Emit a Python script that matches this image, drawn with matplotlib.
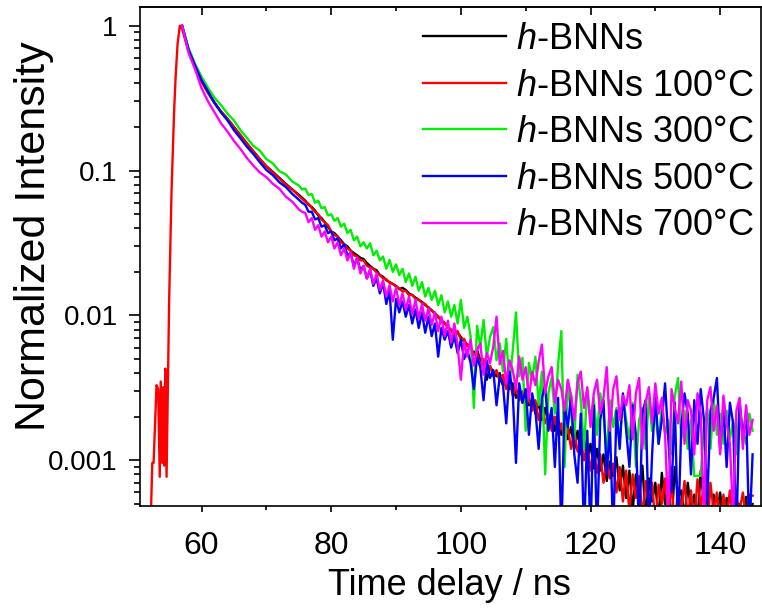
import matplotlib
matplotlib.use("Agg")
import matplotlib.pyplot as plt
from matplotlib.ticker import MultipleLocator, LogLocator, NullFormatter

plt.rcParams['font.family'] = ['Liberation Sans', 'DejaVu Sans']
plt.rcParams['mathtext.fontset'] = 'custom'
plt.rcParams['mathtext.it'] = 'Liberation Sans:italic'
plt.rcParams['mathtext.rm'] = 'Liberation Sans'

# time grid of the decay part (ns)
t = [57, 58, 59, 60, 61, 62, 63, 64, 65, 66,
     67, 68, 69, 70, 71, 72, 73, 74, 75, 75.5,
     76, 76.5, 77, 77.5, 78, 78.5, 79, 79.5, 80, 80.5,
     81, 81.5, 82, 82.5, 83, 83.5, 84, 84.5, 85, 85.5,
     86, 86.5, 87, 87.5, 88, 88.5, 89, 89.5, 90, 90.5,
     91, 91.5, 92, 92.5, 93, 93.5, 94, 94.5, 95, 95.5,
     96, 96.5, 97, 97.5, 98, 98.5, 99, 99.5, 100, 100.5,
     101, 101.5, 102, 102.5, 103, 103.5, 104, 104.5, 105, 105.5,
     106, 106.5, 107, 107.5, 108, 108.5, 109, 109.5, 110, 110.5,
     111, 111.5, 112, 112.5, 113, 113.5, 114, 114.5, 115, 115.5,
     116, 116.5, 117, 117.5, 118, 118.5, 119, 119.5, 120, 120.5,
     121, 121.5, 122, 122.5, 123, 123.5, 124, 124.5, 125, 125.5,
     126, 126.5, 127, 127.5, 128, 128.5, 129, 129.5, 130, 130.5,
     131, 131.5, 132, 132.5, 133, 133.5, 134, 134.5, 135, 135.5,
     136, 136.5, 137, 137.5, 138, 138.5, 139, 139.5, 140, 140.5,
     141, 141.5, 142, 142.5, 143, 143.5, 144, 144.5, 145]

# rising edge, only visible for the 100 C sample
red_rise_t = [52.2, 52.4, 52.6, 53.05, 53.3, 53.55, 53.7, 53.95, 54.1, 54.25,
              54.4, 54.6, 55.0, 55.37, 55.77, 56.0, 56.3, 56.65]
red_rise = [0.00045, 0.00096, 0.00096, 0.0033, 0.0031, 0.00077, 0.0035, 0.00096, 0.0032, 0.00092,
            0.0043, 0.00077, 0.0128, 0.073, 0.26, 0.445, 0.75, 1.0]

black = [1.0, 0.68, 0.52, 0.415, 0.345, 0.295, 0.256, 0.228, 0.2, 0.175,
         0.154, 0.136, 0.12, 0.107, 0.098, 0.089, 0.081, 0.074, 0.068, 0.065,
         0.062, 0.058, 0.056, 0.053, 0.049, 0.047, 0.044, 0.041, 0.038, 0.037,
         0.035, 0.033, 0.031, 0.030, 0.028, 0.027, 0.026, 0.025, 0.0245, 0.023,
         0.022, 0.021, 0.0205, 0.019, 0.0185, 0.0175, 0.017, 0.0165, 0.016, 0.0152,
         0.0155, 0.015, 0.0142, 0.0138, 0.0133, 0.0128, 0.0124, 0.0118, 0.0114, 0.0108,
         0.0104, 0.0097, 0.0093, 0.0088, 0.0084, 0.0079, 0.0073, 0.0076, 0.0071, 0.0066,
         0.0063, 0.0059, 0.0055, 0.0058, 0.0049, 0.0047, 0.0036, 0.0044, 0.0041, 0.0038,
         0.0040, 0.0033, 0.0037, 0.0031, 0.0034, 0.0027, 0.0030, 0.0025, 0.0029, 0.0024,
         0.0026, 0.0021, 0.0025, 0.0019, 0.0023, 0.0018, 0.0021, 0.0016, 0.0019, 0.0015,
         0.0018, 0.0014, 0.0017, 0.0012, 0.0016, 0.0011, 0.0014, 0.0010, 0.0013, 0.00088,
         0.0012, 0.00085, 0.0011, 0.00072, 0.00098, 0.00078, 0.00105, 0.00062, 0.00092, 0.00055,
         0.00085, 0.00045, 0.0008, 0.00058, 0.00092, 0.0004, 0.00075, 0.00052, 0.0007, 0.00038,
         0.00082, 0.0005, 0.00068, 0.00035, 0.0009, 0.00055, 0.00062, 0.0004, 0.0007, 0.00045,
         0.00058, 0.00038, 0.00085, 0.0005, 0.00066, 0.0003, 0.00058, 0.00042, 0.0006, 0.00035,
         0.00055, 0.0004, 0.00062, 0.00035, 0.0005, 0.00042, 0.00056, 0.00038, 0.0005]

red = [0.95, 0.66, 0.51, 0.41, 0.343, 0.293, 0.255, 0.226, 0.198, 0.174,
       0.153, 0.135, 0.12, 0.107, 0.097, 0.088, 0.08, 0.074, 0.067, 0.064,
       0.061, 0.059, 0.055, 0.052, 0.05, 0.046, 0.044, 0.042, 0.038, 0.036,
       0.035, 0.032, 0.031, 0.029, 0.028, 0.026, 0.0255, 0.024, 0.024, 0.022,
       0.0215, 0.021, 0.0198, 0.019, 0.018, 0.0178, 0.0168, 0.0165, 0.0158, 0.0154,
       0.0146, 0.0148, 0.0138, 0.0139, 0.013, 0.0129, 0.0122, 0.012, 0.0112, 0.0109,
       0.0102, 0.0099, 0.0091, 0.0089, 0.0082, 0.008, 0.0075, 0.0078, 0.0068, 0.0069,
       0.0061, 0.0062, 0.0053, 0.0056, 0.0044, 0.005, 0.0041, 0.0045, 0.0038, 0.0042,
       0.0035, 0.0039, 0.0031, 0.0036, 0.0028, 0.0032, 0.0026, 0.003, 0.0024, 0.0027,
       0.0022, 0.0026, 0.0019, 0.0024, 0.0018, 0.0021, 0.0016, 0.002, 0.0015, 0.0018,
       0.0014, 0.0017, 0.0012, 0.0016, 0.00115, 0.0014, 0.001, 0.0013, 0.00085, 0.0012,
       0.00082, 0.0011, 0.0007, 0.001, 0.00075, 0.00095, 0.0006, 0.0009, 0.00052, 0.00085,
       0.00044, 0.0008, 0.00055, 0.00078, 0.0004, 0.00072, 0.0005, 0.0007, 0.00036, 0.00068,
       0.0005, 0.00075, 0.00042, 0.0007, 0.00034, 0.00065, 0.00045, 0.00072, 0.0004, 0.00062,
       0.00036, 0.00074, 0.00048, 0.00068, 0.0003, 0.0007, 0.00044, 0.0006, 0.00035, 0.00058,
       0.0004, 0.00062, 0.00033, 0.00055, 0.00045, 0.0006, 0.0004, 0.00058, 0.00057]

green = [1.0, 0.7, 0.545, 0.445, 0.372, 0.318, 0.283, 0.247, 0.222, 0.19,
         0.168, 0.148, 0.137, 0.12, 0.112, 0.099, 0.094, 0.084, 0.079, 0.074,
         0.075, 0.068, 0.069, 0.06, 0.062, 0.055, 0.056, 0.049, 0.05, 0.045,
         0.047, 0.041, 0.043, 0.037, 0.039, 0.033, 0.035, 0.03, 0.032, 0.029,
         0.0315, 0.026, 0.028, 0.024, 0.0255, 0.021, 0.0242, 0.02, 0.0225, 0.019,
         0.021, 0.017, 0.0195, 0.016, 0.0185, 0.0148, 0.017, 0.0135, 0.0155, 0.0128,
         0.0148, 0.0118, 0.0138, 0.0105, 0.0125, 0.0098, 0.0118, 0.0088, 0.0128, 0.0082,
         0.0098, 0.0072, 0.0023, 0.0085, 0.0061, 0.0093, 0.0052, 0.0071, 0.0083, 0.0049,
         0.0064, 0.0041, 0.0069, 0.0033, 0.0057, 0.0105, 0.0038, 0.0051, 0.0016, 0.0047,
         0.0036, 0.0052, 0.0024, 0.0041, 0.0008, 0.0029, 0.0037, 0.0021, 0.0046, 0.0078,
         0.0009, 0.0035, 0.0021, 0.0014, 0.0039, 0.0026, 0.0012, 0.0031, 0.0019, 0.0027,
         0.0015, 0.0029, 0.0021, 0.0011, 0.0026, 0.0017, 0.0023, 0.0013, 0.0028, 0.0019,
         0.0014, 0.0025, 0.0009, 0.0019, 0.0023, 0.0012, 0.0027, 0.0016, 0.0021, 0.0013,
         0.0024, 0.0015, 0.0019, 0.0011, 0.0028, 0.0037, 0.0014, 0.0022, 0.0012, 0.0019,
         0.00078, 0.00078, 0.00078, 0.0017, 0.0023, 0.0012, 0.0026, 0.0015, 0.0021, 0.0013,
         0.0022, 0.0014, 0.0019, 0.0011, 0.0024, 0.0016, 0.0013, 0.0021, 0.0016]

blue = [1.0, 0.68, 0.53, 0.42, 0.352, 0.292, 0.252, 0.222, 0.19, 0.167,
        0.146, 0.13, 0.114, 0.101, 0.093, 0.083, 0.077, 0.069, 0.063, 0.06,
        0.058, 0.052, 0.052, 0.046, 0.047, 0.041, 0.042, 0.037, 0.038, 0.033,
        0.034, 0.029, 0.031, 0.026, 0.027, 0.022, 0.025, 0.0205, 0.022, 0.018,
        0.0205, 0.016, 0.018, 0.0142, 0.0168, 0.012, 0.0148, 0.0068, 0.013, 0.0105,
        0.0125, 0.0098, 0.0118, 0.0088, 0.011, 0.0082, 0.0105, 0.0076, 0.0098, 0.0072,
        0.0088, 0.0052, 0.0082, 0.0068, 0.0078, 0.006, 0.0072, 0.0055, 0.0068, 0.005,
        0.0058, 0.0047, 0.0031, 0.0052, 0.0044, 0.0026, 0.0049, 0.0037, 0.0042, 0.0024,
        0.0038, 0.0033, 0.0018, 0.0041, 0.0029, 0.00096, 0.0034, 0.0025, 0.0031, 0.0015,
        0.0029, 0.0022, 0.0012, 0.0027, 0.0033, 0.0016, 0.0023, 0.0009, 0.0027, 0.0003,
        0.0024, 0.0017, 0.0028, 0.0011, 0.0007, 0.0021, 0.0003, 0.0016, 0.0003, 0.0024,
        0.0003, 0.0019, 0.0026, 0.0008, 0.0017, 0.0003, 0.0022, 0.0012, 0.0029, 0.0016,
        0.0009, 0.0024, 0.0015, 0.0003, 0.0021, 0.0026, 0.0003, 0.0011, 0.0028, 0.0013,
        0.0019, 0.0034, 0.0014, 0.0006, 0.0025, 0.0003, 0.0017, 0.0029, 0.0021, 0.0008,
        0.0026, 0.0013, 0.0031, 0.0019, 0.0005, 0.0022, 0.0027, 0.0037, 0.0012, 0.0023,
        0.0009, 0.0025, 0.0018, 0.0003, 0.0026, 0.0014, 0.0022, 0.0003, 0.0011]

magenta = [1.0, 0.65, 0.5, 0.37, 0.3, 0.252, 0.212, 0.186, 0.16, 0.141,
           0.122, 0.108, 0.097, 0.09, 0.081, 0.075, 0.066, 0.061, 0.054, 0.052,
           0.051, 0.044, 0.047, 0.039, 0.042, 0.035, 0.038, 0.032, 0.035, 0.029,
           0.032, 0.026, 0.029, 0.024, 0.027, 0.021, 0.025, 0.0195, 0.022, 0.018,
           0.021, 0.0165, 0.0195, 0.015, 0.0175, 0.0135, 0.0162, 0.0125, 0.0155, 0.0118,
           0.0142, 0.011, 0.0135, 0.0102, 0.0128, 0.0095, 0.012, 0.0092, 0.0112, 0.0086,
           0.0105, 0.0078, 0.0098, 0.0072, 0.0092, 0.0065, 0.0088, 0.0062, 0.0036, 0.0066,
           0.0052, 0.0068, 0.0045, 0.0058, 0.0064, 0.0039, 0.0055, 0.0047, 0.0061, 0.0098,
           0.0046, 0.0057, 0.0034, 0.0049, 0.0042, 0.0031, 0.0052, 0.0036, 0.0044, 0.0027,
           0.0041, 0.0033, 0.0048, 0.0063, 0.0029, 0.0038, 0.0044, 0.0025, 0.0036, 0.0031,
           0.0022, 0.0036, 0.0028, 0.0019, 0.0034, 0.0041, 0.0023, 0.0032, 0.0017, 0.0029,
           0.0036, 0.0021, 0.0027, 0.0044, 0.0016, 0.0031, 0.0038, 0.0019, 0.0028, 0.0024,
           0.0033, 0.0014, 0.0029, 0.0037, 0.0012, 0.0025, 0.0032, 0.0018, 0.0034, 0.0021,
           0.0027, 0.0015, 0.0004, 0.0031, 0.0023, 0.0018, 0.0035, 0.0013, 0.0026, 0.0022,
           0.0011, 0.0029, 0.0021, 0.0004, 0.0026, 0.0032, 0.0016, 0.0024, 0.0011, 0.0028,
           0.0018, 0.0013, 0.0004, 0.0022, 0.0027, 0.0012, 0.0024, 0.0015, 0.0019]

labels = [r'$\mathit{h}$-BNNs', r'$\mathit{h}$-BNNs 100°C', r'$\mathit{h}$-BNNs 300°C',
          r'$\mathit{h}$-BNNs 500°C', r'$\mathit{h}$-BNNs 700°C']
colors = ['#000000', '#ff0000', '#00ee00', '#0000ff', '#ff00ff']

fig = plt.figure(figsize=(7.62, 6.10), dpi=100)
ax = fig.add_axes([0.1837, 0.1705, 0.8150, 0.8180])

ax.plot(t, black, color=colors[0], lw=1.7, label=labels[0])
ax.plot(red_rise_t + t, red_rise + red, color=colors[1], lw=1.7, label=labels[1])
ax.plot(t, green, color=colors[2], lw=1.7, label=labels[2])
ax.plot(t, blue, color=colors[3], lw=1.7, label=labels[3])
ax.plot(t, magenta, color=colors[4], lw=1.7, label=labels[4])

ax.set_yscale('log')
ax.set_xlim(50.5, 146.3)
ax.set_ylim(0.000484, 1.346)

ax.set_xticks([60, 80, 100, 120, 140])
ax.xaxis.set_minor_locator(MultipleLocator(10))
ax.set_yticks([0.001, 0.01, 0.1, 1])
ax.set_yticklabels(['0.001', '0.01', '0.1', '1'])
ax.yaxis.set_minor_locator(LogLocator(base=10, subs=range(2, 10)))
ax.yaxis.set_minor_formatter(NullFormatter())

ax.tick_params(axis='x', which='major', direction='out', length=4, width=1.2, labelsize=23, pad=14)
ax.tick_params(axis='x', which='minor', direction='out', length=3, width=1.2)
ax.tick_params(axis='y', which='major', direction='out', length=8, width=1.2, labelsize=20, pad=8)
ax.tick_params(axis='y', which='minor', direction='out', length=4, width=1.2)

top = ax.secondary_xaxis('top')
top.set_xticks([60, 80, 100, 120, 140])
top.xaxis.set_minor_locator(MultipleLocator(10))
top.tick_params(which='major', direction='in', length=6, width=1.2, labeltop=False)
top.tick_params(which='minor', direction='in', length=3, width=1.2)
top.spines['top'].set_linewidth(1.2)

for s in ax.spines.values():
    s.set_linewidth(1.2)

ax.set_xlabel('Time delay / ns', fontsize=26)
ax.set_ylabel('Normalized Intensity', fontsize=31)
ax.xaxis.set_label_coords(0.4976, -0.125)
ax.yaxis.set_label_coords(-0.138, 0.54)

ax.legend(loc='upper left', bbox_to_anchor=(0.455, 0.970), frameon=False, fontsize=26,
          handlelength=2.3, handletextpad=0.28, labelspacing=0.32, borderpad=0, borderaxespad=0)

fig.savefig('out.png', dpi=100)
